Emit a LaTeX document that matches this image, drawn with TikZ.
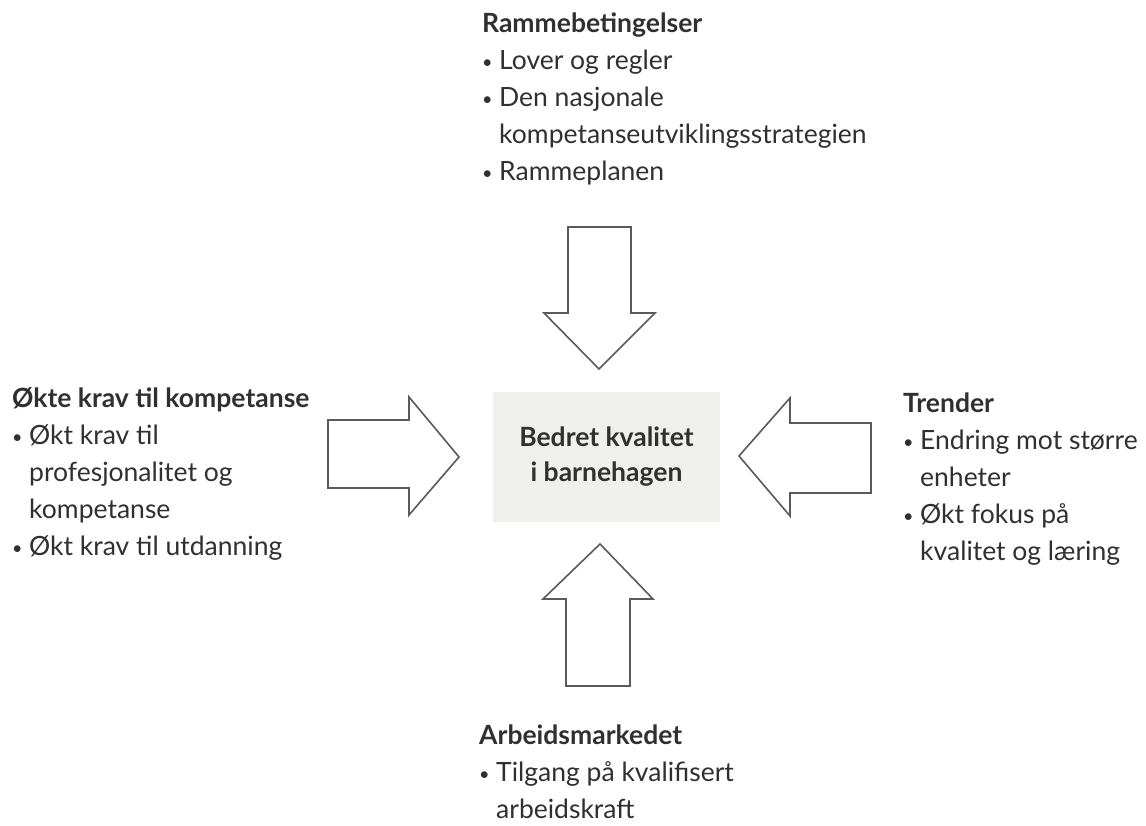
\documentclass[tikz,border=0pt]{standalone}
\usepackage{fontspec}
\setmainfont{Lato}
\definecolor{textcol}{HTML}{303030}
\definecolor{arrowcol}{HTML}{5A5A5A}
\definecolor{boxfill}{HTML}{EFEFEC}
\newcommand\bul{\makebox[17pt][l]{\raisebox{1pt}{\fontsize{18}{18}\selectfont •}}}
\newcommand\ind{\hspace*{17pt}}
\begin{document}
\begin{tikzpicture}[x=1pt,y=-1pt,
  txt/.style={anchor=north west, inner sep=0pt, align=left,
    font=\fontsize{26.5}{37}\selectfont, text=textcol},
  blockarrow/.style={draw=arrowcol, line width=1.6pt, fill=white, line join=miter},
  centerbox/.style={fill=boxfill, draw=none, minimum width=227pt, minimum height=130pt,
    inner sep=0pt, align=center, text=textcol,
    font=\fontsize{26.5}{35}\selectfont\bfseries}
]
\useasboundingbox (0,0) rectangle (1146,826);
\fill[white] (0,0) rectangle (1146,826);

% centre
\node[centerbox] (center) at (606.5,457) {Bedret kvalitet\\i barnehagen};

% block arrows
\path[blockarrow] (568,227) -- (631,227) -- (631,313) -- (655,313) -- (599,369)
  -- (544,313) -- (568,313) -- cycle;
\path[blockarrow] (328,420) -- (409,420) -- (409,397) -- (459,457) -- (409,515)
  -- (409,488) -- (328,488) -- cycle;
\path[blockarrow] (871,423) -- (790,423) -- (790,398) -- (739,456) -- (790,516)
  -- (790,493) -- (871,493) -- cycle;
\path[blockarrow] (566,686) -- (630,686) -- (630,599) -- (653,599) -- (600,544)
  -- (543,599) -- (566,599) -- cycle;

% text blocks
\node[txt] (top) at (482,13) {\textbf{Rammebetingelser}\\
  \bul Lover og regler\\
  \bul Den nasjonale\\
  \ind kompetanseutviklingsstrategien\\
  \bul Rammeplanen};

\node[txt] (left) at (12,387) {\textbf{Økte krav til kompetanse}\\
  \bul Økt krav til\\
  \ind profesjonalitet og\\
  \ind kompetanse\\
  \bul Økt krav til utdanning};

\node[txt] (right) at (903,393) {\textbf{Trender}\\
  \bul Endring mot større\\
  \ind enheter\\
  \bul Økt fokus på\\
  \ind kvalitet og læring};

\node[txt] (bottom) at (479,725) {\textbf{Arbeidsmarkedet}\\
  \bul Tilgang på kvalifisert\\
  \ind arbeidskraft};
\end{tikzpicture}
\end{document}
